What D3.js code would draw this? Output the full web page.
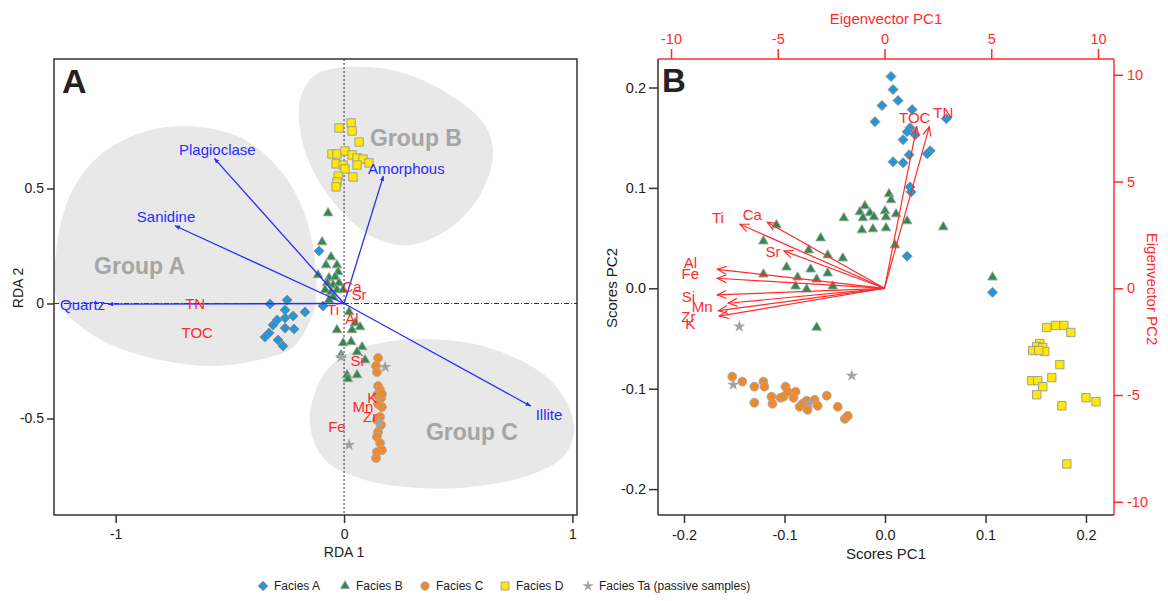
<!DOCTYPE html>
<html>
<head>
<meta charset="utf-8">
<script src="https://cdn.jsdelivr.net/npm/d3@7"></script>
<style>
  body { margin: 0; background: #fff; }
  text { font-family: "Liberation Sans", Arial, sans-serif; }
</style>
</head>
<body>
<svg id="chart" width="1168" height="601"></svg>
<script>
// ---------- Panel A: RDA biplot ----------
const rdaFaciesA = [[-0.324,-0.002],[-0.249,0.015],[-0.258,-0.028],[-0.223,-0.054],[-0.171,-0.037],
  [-0.293,-0.072],[-0.258,-0.063],[-0.311,-0.093],[-0.258,-0.107],[-0.219,-0.111],[-0.328,-0.128],
  [-0.346,-0.146],[-0.289,-0.159],[-0.267,-0.185],[-0.092,-0.011],[-0.109,0.228]];
const rdaFaciesB = [[-0.070,0.393],[-0.096,0.267],[-0.057,0.202],[-0.079,0.167],[-0.031,0.167],
  [-0.026,0.137],[-0.114,0.124],[-0.066,0.111],[-0.039,0.115],[-0.074,0.089],[-0.048,0.080],
  [-0.022,0.089],[-0.083,0.059],[-0.057,0.050],[-0.031,0.059],[-0.004,0.059],[-0.048,0.028],
  [-0.066,0.015],[0.022,-0.037],[-0.031,-0.115],[0.035,-0.115],[0.048,-0.085],[0.070,-0.102],
  [-0.004,-0.172],[0.031,-0.167],[0.079,-0.189],[0.057,-0.211],[0.092,-0.246],[0.013,-0.311],
  [0.057,-0.311],[0.017,-0.328],[-0.013,-0.224]];
const rdaFaciesC = [[0.149,-0.237],[0.140,-0.272],[0.144,-0.298],[0.149,-0.359],[0.158,-0.376],
  [0.144,-0.398],[0.162,-0.411],[0.149,-0.437],[0.158,-0.493],[0.144,-0.507],[0.162,-0.528],
  [0.149,-0.559],[0.144,-0.580],[0.158,-0.607],[0.166,-0.637],[0.144,-0.646],[0.140,-0.672],
  [0.166,-0.393],[0.166,-0.450]];
const rdaFaciesD = [[-0.022,0.763],[0.031,0.785],[0.035,0.750],[0.066,0.702],[-0.053,0.650],
  [-0.031,0.650],[0.004,0.663],[0.035,0.646],[0.057,0.633],[0.083,0.628],[0.109,0.611],
  [-0.035,0.607],[-0.004,0.602],[0.057,0.602],[0.004,0.585],[0.039,0.550],[-0.026,0.554],
  [-0.031,0.528],[-0.035,0.507]];
const rdaFaciesTa = [[-0.013,-0.233],[0.180,-0.276],[0.022,-0.615],[0.153,-0.520]];

const rdaMinerals = [
  { name: "Plagioclase", x: -0.568, y: 0.631 },
  { name: "Sanidine",    x: -0.740, y: 0.338 },
  { name: "Amorphous",   x: 0.172,  y: 0.554 },
  { name: "Quartz",      x: -1.033, y: -0.003 },
  { name: "Illite",      x: 0.817,  y: -0.446 }
];
const rdaElements = [
  { name: "TN",  x: -0.652, y: 0.002 },
  { name: "TOC", x: -0.643, y: -0.124 },
  { name: "Ti",  x: -0.048, y: -0.028 },
  { name: "Ca",  x: 0.035,  y: 0.076 },
  { name: "Sr",  x: 0.066,  y: 0.037 },
  { name: "Al",  x: 0.035,  y: -0.067 },
  { name: "Si",  x: 0.057,  y: -0.250 },
  { name: "K",   x: 0.123,  y: -0.407 },
  { name: "Mn",  x: 0.083,  y: -0.450 },
  { name: "Zr",  x: 0.114,  y: -0.493 },
  { name: "Fe",  x: -0.031, y: -0.533 }
];
// group hulls (RDA units)
const groupA = [[-1.256,0.015],[-1.260,0.233],[-1.199,0.472],[-1.068,0.646],[-0.849,0.754],
  [-0.630,0.767],[-0.433,0.711],[-0.280,0.580],[-0.179,0.407],[-0.127,0.189],[-0.123,0.015],
  [-0.135,-0.041],[-0.223,-0.189],[-0.376,-0.246],[-0.600,-0.272],[-0.937,-0.211],[-1.133,-0.115]];
const groupB = [[-0.193,0.885],[-0.127,0.993],[0.026,1.028],[0.245,1.007],[0.464,0.907],
  [0.617,0.776],[0.652,0.646],[0.595,0.472],[0.464,0.328],[0.289,0.254],[0.136,0.285],
  [0.004,0.385],[-0.105,0.524],[-0.179,0.689]];
const groupC = [[-0.149,-0.528],[-0.114,-0.354],[-0.018,-0.237],[0.158,-0.172],[0.333,-0.154],
  [0.551,-0.172],[0.770,-0.246],[0.923,-0.354],[1.007,-0.528],[0.967,-0.659],[0.814,-0.746],
  [0.551,-0.798],[0.333,-0.802],[0.092,-0.767],[-0.083,-0.680]];
const groupLabels = [
  { name: "Group A", x: -0.895, y: 0.163 },
  { name: "Group B", x: 0.315,  y: 0.720 },
  { name: "Group C", x: 0.560,  y: -0.559 }
];
const rdaTicksX = [-1, 0, 1];
const rdaTicksY = [-0.5, 0, 0.5];

// ---------- Panel B: PCA biplot ----------
const pcaFaciesA = [[0.006,0.211],[0.008,0.198],[0.013,0.187],[-0.003,0.182],[-0.010,0.166],
  [0.027,0.178],[0.061,0.169],[0.025,0.160],[0.022,0.156],[0.030,0.153],[0.018,0.148],
  [0.045,0.137],[0.042,0.134],[0.024,0.133],[0.008,0.126],[0.018,0.125],[0.025,0.101],
  [0.026,0.096],[0.022,0.032],[0.107,-0.004]];
const pcaFaciesB = [[0.004,0.094],[0.006,0.088],[-0.020,0.082],[-0.025,0.076],[-0.015,0.075],
  [0.000,0.077],[0.011,0.074],[0.022,0.067],[-0.022,0.070],[-0.011,0.071],[0.001,0.071],
  [-0.041,0.070],[-0.023,0.058],[-0.012,0.059],[0.001,0.060],[0.058,0.061],[0.010,0.043],
  [0.107,0.011],[-0.108,0.063],[-0.064,0.050],[-0.121,0.047],[-0.076,0.038],[-0.057,0.033],
  [-0.042,0.030],[-0.098,0.021],[-0.074,0.019],[-0.057,0.015],[-0.121,0.014],[-0.087,0.011],
  [-0.068,0.009],[-0.089,0.002],[-0.078,-0.001],[-0.052,0.002],[-0.068,-0.039]];
const pcaFaciesC = [[-0.152,-0.088],[-0.142,-0.093],[-0.130,-0.098],[-0.130,-0.114],[-0.121,-0.093],
  [-0.120,-0.098],[-0.113,-0.108],[-0.112,-0.115],[-0.104,-0.109],[-0.101,-0.108],[-0.099,-0.098],
  [-0.097,-0.103],[-0.089,-0.103],[-0.091,-0.109],[-0.085,-0.118],[-0.082,-0.115],[-0.078,-0.112],
  [-0.077,-0.121],[-0.070,-0.111],[-0.067,-0.117],[-0.058,-0.107],[-0.047,-0.118],[-0.040,-0.130],
  [-0.037,-0.127]];
const pcaFaciesD = [[0.161,-0.039],[0.170,-0.037],[0.178,-0.037],[0.185,-0.044],[0.154,-0.055],
  [0.151,-0.058],[0.157,-0.059],[0.147,-0.062],[0.159,-0.063],[0.153,-0.062],[0.174,-0.076],
  [0.166,-0.089],[0.146,-0.092],[0.152,-0.092],[0.157,-0.098],[0.151,-0.106],[0.176,-0.117],
  [0.200,-0.109],[0.210,-0.113],[0.181,-0.175]];
const pcaFaciesTa = [[-0.145,-0.038],[-0.151,-0.096],[-0.033,-0.087],[-0.075,-0.114]];

// eigenvector loadings (top / right axes)
const pcaLoadings = [
  { name: "TOC", x: 1.51,  y: 7.57 },
  { name: "TN",  x: 2.10,  y: 7.57 },
  { name: "Ti",  x: -6.77, y: 3.00 },
  { name: "Ca",  x: -5.49, y: 3.09 },
  { name: "Sr",  x: -4.71, y: 1.75 },
  { name: "Al",  x: -7.83, y: 0.89 },
  { name: "Fe",  x: -7.83, y: 0.47 },
  { name: "Si",  x: -7.83, y: -0.31 },
  { name: "Mn",  x: -7.32, y: -0.70 },
  { name: "Zr",  x: -7.78, y: -1.05 },
  { name: "K",   x: -7.74, y: -1.30 }
];
const scoreTicks = [-0.2, -0.1, 0, 0.1, 0.2];
const eigenTicks = [-10, -5, 0, 5, 10];

const legendItems = [
  { key: "A",  label: "Facies A" },
  { key: "B",  label: "Facies B" },
  { key: "C",  label: "Facies C" },
  { key: "D",  label: "Facies D" },
  { key: "Ta", label: "Facies Ta (passive samples)" }
];

// ---------- styles & layout ----------
const RED = "#ff2b2b", BLUE = "#2b2bff", DARK = "#333";
const markers = {
  A:  { type: d3.symbolSquare,   size: 50, rotate: 45, fill: "#2596d6", stroke: "#8c8c8c" },
  B:  { type: d3.symbolTriangle, size: 40, rotate: 0,  fill: "#2e8a4e", stroke: "#a0a0a0" },
  C:  { type: d3.symbolCircle,   size: 62, rotate: 0,  fill: "#ef8a2c", stroke: "#a8a8a8" },
  D:  { type: d3.symbolSquare,   size: 70, rotate: 0,  fill: "#ffe900", stroke: "#999" },
  Ta: { type: d3.symbolStar,     size: 46, rotate: 0,  fill: "#a3a3a3", stroke: "none" }
};
const mineralLabelOffset = {
  Plagioclase: [3, -9, "middle"], Sanidine: [-9, -9, "middle"], Amorphous: [23, -8, "middle"],
  Quartz: [-3, 0, "end"], Illite: [5, 8, "start"]
};
const loadingLabelOffset = {
  TOC: [-2, -9], TN: [14, -14], Ti: [-22, -7], Ca: [-15, -8], Sr: [-11, 1],
  Al: [-27, -7], Fe: [-27, -5], Si: [-29, 2], Mn: [-26, 3], Zr: [-30, 6], K: [-29, 7]
};

const svg = d3.select("#chart");
svg.append("rect").attr("width", 1168).attr("height", 601).attr("fill", "#fff");
const defs = svg.append("defs");

defs.append("clipPath").attr("id", "clipA")
  .append("rect").attr("x", 54).attr("y", 59).attr("width", 523).attr("height", 456);
defs.append("marker").attr("id", "blueHead")
  .attr("viewBox", "0 -3 6 6").attr("refX", 5).attr("refY", 0)
  .attr("markerUnits", "userSpaceOnUse").attr("markerWidth", 6).attr("markerHeight", 6)
  .attr("orient", "auto")
  .append("path").attr("d", "M0,-2.2L5.5,0L0,2.2Z").attr("fill", BLUE);
defs.append("marker").attr("id", "redHead")
  .attr("viewBox", "-10 -6 12 12").attr("refX", 0).attr("refY", 0)
  .attr("markerUnits", "userSpaceOnUse").attr("markerWidth", 12).attr("markerHeight", 12)
  .attr("orient", "auto")
  .append("path").attr("d", "M-9,-4L0,0L-9,4").attr("fill", "none")
  .attr("stroke", RED).attr("stroke-width", 1.2);

function drawPoints(g, data, key, x, y) {
  const m = markers[key];
  const sym = d3.symbol().type(m.type).size(m.size);
  g.selectAll(null).data(data).enter().append("path")
    .attr("d", sym)
    .attr("transform", d => `translate(${x(d[0])},${y(d[1])}) rotate(${m.rotate})`)
    .attr("fill", m.fill)
    .attr("stroke", m.stroke)
    .attr("stroke-width", 0.9);
}

// ================= Panel A =================
const xA = d3.scaleLinear().domain([-1.27, 1.02]).range([54, 577]);
const yA = d3.scaleLinear().domain([-0.9196, 1.063]).range([515, 59]);
const gA = svg.append("g");
const plotA = gA.append("g").attr("clip-path", "url(#clipA)");

const hull = d3.line().x(d => xA(d[0])).y(d => yA(d[1])).curve(d3.curveCatmullRomClosed.alpha(0.5));
[groupA, groupB, groupC].forEach(h => {
  plotA.append("path").attr("d", hull(h)).attr("fill", "#e8e8e8");
});

plotA.selectAll(null).data(groupLabels).enter().append("text")
  .attr("x", d => xA(d.x)).attr("y", d => yA(d.y))
  .attr("text-anchor", "middle").attr("dominant-baseline", "central")
  .attr("font-size", 23).attr("font-weight", "bold").attr("fill", "#a5a5a5")
  .text(d => d.name);

// zero reference lines
plotA.append("line").attr("x1", xA(0)).attr("x2", xA(0)).attr("y1", 59).attr("y2", 515)
  .attr("stroke", DARK).attr("stroke-width", 1).attr("stroke-dasharray", "2,2");
plotA.append("line").attr("x1", 54).attr("x2", 577).attr("y1", yA(0)).attr("y2", yA(0))
  .attr("stroke", DARK).attr("stroke-width", 1).attr("stroke-dasharray", "5,2,1,2");

drawPoints(plotA, rdaFaciesD, "D", xA, yA);
drawPoints(plotA, rdaFaciesA, "A", xA, yA);
drawPoints(plotA, rdaFaciesB, "B", xA, yA);
drawPoints(plotA, rdaFaciesC, "C", xA, yA);
drawPoints(plotA, rdaFaciesTa, "Ta", xA, yA);

// mineral vectors
plotA.selectAll(null).data(rdaMinerals).enter().append("line")
  .attr("x1", xA(0)).attr("y1", yA(0))
  .attr("x2", d => xA(d.x)).attr("y2", d => yA(d.y))
  .attr("stroke", BLUE).attr("stroke-width", 1.3)
  .attr("marker-end", "url(#blueHead)");
plotA.selectAll(null).data(rdaMinerals).enter().append("text")
  .attr("x", d => xA(d.x) + mineralLabelOffset[d.name][0])
  .attr("y", d => yA(d.y) + mineralLabelOffset[d.name][1])
  .attr("text-anchor", d => mineralLabelOffset[d.name][2])
  .attr("dominant-baseline", "central")
  .attr("font-size", 15).attr("fill", BLUE)
  .text(d => d.name);

// element scores
plotA.selectAll(null).data(rdaElements).enter().append("text")
  .attr("x", d => xA(d.x)).attr("y", d => yA(d.y))
  .attr("text-anchor", "middle").attr("dominant-baseline", "central")
  .attr("font-size", 15).attr("fill", RED)
  .text(d => d.name);

gA.append("rect").attr("x", 54).attr("y", 59).attr("width", 523).attr("height", 456)
  .attr("fill", "none").attr("stroke", DARK).attr("stroke-width", 1.5);

const axA1 = gA.append("g").attr("transform", "translate(0,515)")
  .call(d3.axisBottom(xA).tickValues(rdaTicksX).tickSize(8).tickPadding(6).tickFormat(d => String(d)));
const axA2 = gA.append("g").attr("transform", "translate(54,0)")
  .call(d3.axisLeft(yA).tickValues(rdaTicksY).tickSize(7).tickPadding(3).tickFormat(d => String(d)));
[axA1, axA2].forEach(a => {
  a.select(".domain").remove();
  a.selectAll("line").attr("stroke", DARK).attr("stroke-width", 1.5);
  a.selectAll("text").attr("font-size", 14).attr("fill", "#222")
   .attr("font-family", "'Liberation Sans', Arial, sans-serif");
});

gA.append("text").attr("x", 344).attr("y", 552).attr("text-anchor", "middle")
  .attr("dominant-baseline", "central").attr("font-size", 14).attr("fill", "#222").text("RDA 1");
gA.append("text").attr("transform", "translate(18,288) rotate(-90)").attr("text-anchor", "middle")
  .attr("dominant-baseline", "central").attr("font-size", 14).attr("fill", "#222").text("RDA 2");
gA.append("text").attr("x", 62).attr("y", 93).attr("font-size", 34).attr("font-weight", "bold")
  .attr("fill", "#222").text("A");

// ================= Panel B =================
const xB = d3.scaleLinear().domain([-0.2259, 0.2279]).range([658, 1114]);
const yB = d3.scaleLinear().domain([-0.2258, 0.2284]).range([515, 59]);
const xE = d3.scaleLinear().domain([-10.61, 10.75]).range([658, 1114]);
const yE = d3.scaleLinear().domain([-10.62, 10.74]).range([515, 59]);
const gB = svg.append("g");

drawPoints(gB, pcaFaciesA, "A", xB, yB);
drawPoints(gB, pcaFaciesB, "B", xB, yB);
drawPoints(gB, pcaFaciesC, "C", xB, yB);
drawPoints(gB, pcaFaciesD, "D", xB, yB);
drawPoints(gB, pcaFaciesTa, "Ta", xB, yB);

gB.selectAll(null).data(pcaLoadings).enter().append("line")
  .attr("x1", xE(0)).attr("y1", yE(0))
  .attr("x2", d => xE(d.x)).attr("y2", d => yE(d.y))
  .attr("stroke", RED).attr("stroke-width", 1.2)
  .attr("marker-end", "url(#redHead)");
gB.selectAll(null).data(pcaLoadings).enter().append("text")
  .attr("x", d => xE(d.x) + loadingLabelOffset[d.name][0])
  .attr("y", d => yE(d.y) + loadingLabelOffset[d.name][1])
  .attr("text-anchor", "middle").attr("dominant-baseline", "central")
  .attr("font-size", 15).attr("fill", RED)
  .text(d => d.name);

// frame: score axes dark, eigenvector axes red
gB.append("line").attr("x1", 658).attr("x2", 658).attr("y1", 59).attr("y2", 515)
  .attr("stroke", DARK).attr("stroke-width", 1.5);
gB.append("line").attr("x1", 658).attr("x2", 1114).attr("y1", 515).attr("y2", 515)
  .attr("stroke", DARK).attr("stroke-width", 1.5);
gB.append("line").attr("x1", 658).attr("x2", 1114).attr("y1", 59).attr("y2", 59)
  .attr("stroke", RED).attr("stroke-width", 1.5);
gB.append("line").attr("x1", 1114).attr("x2", 1114).attr("y1", 59).attr("y2", 515)
  .attr("stroke", RED).attr("stroke-width", 1.5);

const fmt1 = d => d.toFixed(1);
const axB1 = gB.append("g").attr("transform", "translate(0,515)")
  .call(d3.axisBottom(xB).tickValues(scoreTicks).tickSize(8).tickPadding(7).tickFormat(fmt1));
const axB2 = gB.append("g").attr("transform", "translate(658,0)")
  .call(d3.axisLeft(yB).tickValues(scoreTicks).tickSize(9).tickPadding(3).tickFormat(fmt1));
const axB3 = gB.append("g").attr("transform", "translate(0,59)")
  .call(d3.axisTop(xE).tickValues(eigenTicks).tickSize(10).tickPadding(5).tickFormat(d => String(d)));
const axB4 = gB.append("g").attr("transform", "translate(1114,0)")
  .call(d3.axisRight(yE).tickValues(eigenTicks).tickSize(9).tickPadding(4).tickFormat(d => String(d)));
[axB1, axB2].forEach(a => {
  a.select(".domain").remove();
  a.selectAll("line").attr("stroke", DARK).attr("stroke-width", 1.5);
  a.selectAll("text").attr("font-size", 14.5).attr("fill", "#222")
   .attr("font-family", "'Liberation Sans', Arial, sans-serif");
});
[axB3, axB4].forEach(a => {
  a.select(".domain").remove();
  a.selectAll("line").attr("stroke", RED).attr("stroke-width", 1.5);
  a.selectAll("text").attr("font-size", 14.5).attr("fill", RED)
   .attr("font-family", "'Liberation Sans', Arial, sans-serif");
});

gB.append("text").attr("x", 886).attr("y", 553).attr("text-anchor", "middle")
  .attr("dominant-baseline", "central").attr("font-size", 15).attr("fill", "#222").text("Scores PC1");
gB.append("text").attr("transform", "translate(611,288) rotate(-90)").attr("text-anchor", "middle")
  .attr("dominant-baseline", "central").attr("font-size", 15).attr("fill", "#222").text("Scores PC2");
gB.append("text").attr("x", 886).attr("y", 18).attr("text-anchor", "middle")
  .attr("dominant-baseline", "central").attr("font-size", 15).attr("fill", RED).text("Eigenvector PC1");
gB.append("text").attr("transform", "translate(1152,289) rotate(90)").attr("text-anchor", "middle")
  .attr("dominant-baseline", "central").attr("font-size", 15).attr("fill", RED).text("Eigenvector PC2");
gB.append("text").attr("x", 662).attr("y", 92).attr("font-size", 33).attr("font-weight", "bold")
  .attr("fill", "#222").text("B");

// ================= Legend =================
const legendX = [263, 345, 425, 505, 588];
const legend = svg.append("g").attr("transform", "translate(0,586)");
legendItems.forEach((it, i) => {
  const m = markers[it.key];
  const s = d3.symbol().type(m.type).size(it.key === "Ta" ? 40 : m.size * 0.9);
  legend.append("path").attr("d", s)
    .attr("transform", `translate(${legendX[i]},0) rotate(${m.rotate})`)
    .attr("fill", m.fill).attr("stroke", m.stroke).attr("stroke-width", 0.9);
  legend.append("text").attr("x", legendX[i] + 11).attr("y", 0)
    .attr("dominant-baseline", "central").attr("font-size", 12).attr("fill", "#222")
    .text(it.label);
});
</script>
</body>
</html>
